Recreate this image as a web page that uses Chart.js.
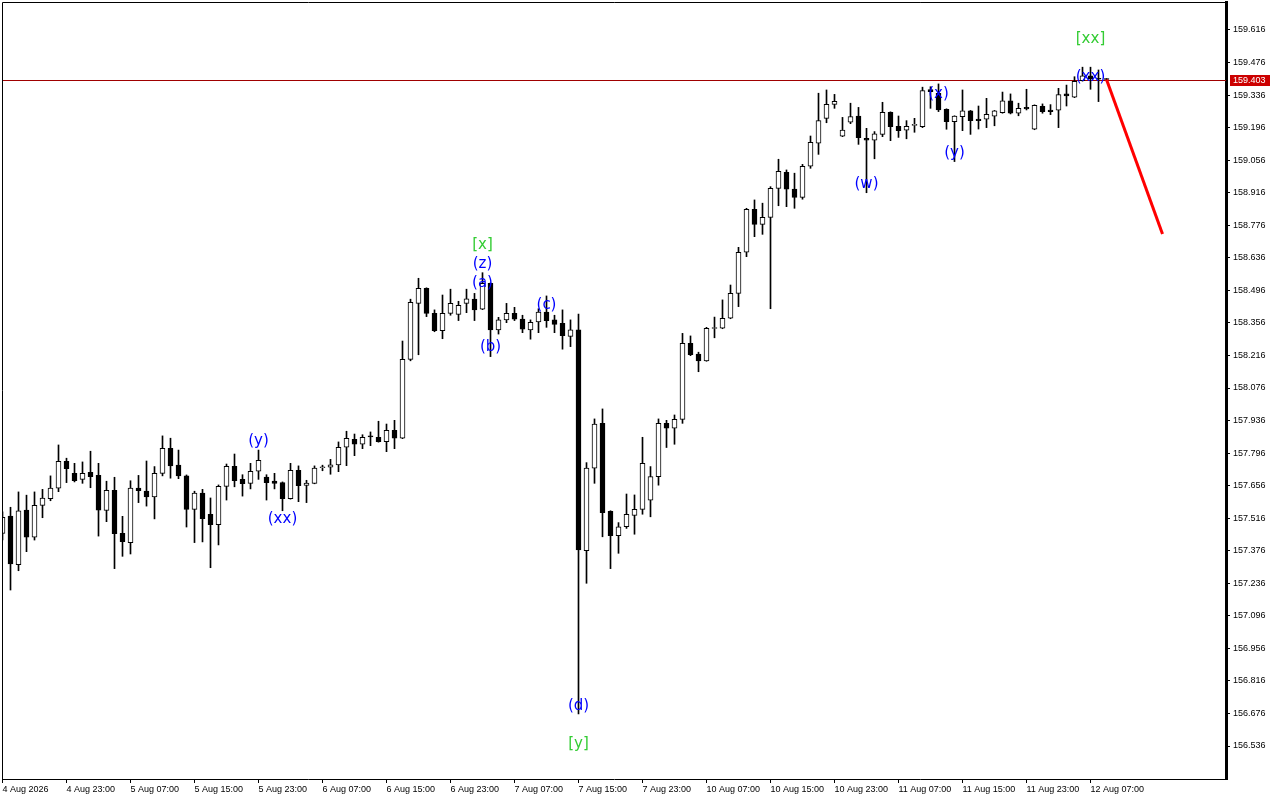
<!DOCTYPE html>
<html>
<head>
<meta charset="utf-8">
<script src="https://cdn.jsdelivr.net/npm/chart.js@4.4.1/dist/chart.umd.min.js"></script>
<style>
html,body{margin:0;padding:0;background:#fff;}
canvas{display:block;}
</style>
</head>
<body>
<canvas id="c" width="1280" height="800"></canvas>
<script>
// ---- data (hourly bars, index 0 = 4 Aug 15:00) ----
const opens = [157.451,157.525,157.316,157.551,157.434,157.571,157.600,157.645,157.761,157.709,
157.683,157.713,157.700,157.549,157.636,157.451,157.411,157.646,157.633,157.608,
157.709,157.817,157.744,157.698,157.554,157.624,157.533,157.488,157.653,157.739,
157.683,157.666,157.718,157.693,157.676,157.669,157.600,157.722,157.657,157.666,
157.733,157.735,157.745,157.821,157.855,157.834,157.868,157.864,157.845,157.894,
157.860,158.199,158.440,158.505,158.397,158.323,158.397,158.393,158.440,158.458,
158.415,158.526,158.326,158.369,158.397,158.372,158.326,158.360,158.403,158.369,
158.354,158.298,158.326,157.376,157.731,157.924,157.546,157.441,157.479,157.528,
157.554,157.594,157.695,157.924,157.903,157.941,158.268,158.222,158.193,158.332,
158.333,158.376,158.483,158.660,158.845,158.780,158.810,158.935,159.004,158.932,
158.896,159.030,159.129,159.236,159.296,159.159,159.219,159.246,159.150,159.142,
159.167,159.262,159.202,159.185,159.206,159.200,159.360,159.344,159.275,159.222,
159.243,159.268,159.233,159.232,159.245,159.260,159.311,159.258,159.283,159.189,
159.288,159.272,159.271,159.341,159.327,159.398,159.419,159.406,159.404];
const highs = [157.543,157.563,157.629,157.615,157.629,157.640,157.698,157.831,157.774,157.752,
157.758,157.804,157.752,157.675,157.692,157.524,157.677,157.700,157.762,157.738,
157.870,157.860,157.809,157.702,157.632,157.640,157.603,157.659,157.749,157.792,
157.703,157.752,157.809,157.703,157.709,157.672,157.752,157.741,157.679,157.741,
157.744,157.769,157.844,157.890,157.878,157.875,157.887,157.933,157.921,157.937,
158.278,158.458,158.548,158.507,158.412,158.476,158.501,158.449,158.501,158.483,
158.572,158.528,158.380,158.440,158.423,158.389,158.369,158.417,158.472,158.389,
158.412,158.369,158.394,157.755,157.943,157.986,157.548,157.497,157.620,157.616,
157.864,157.738,157.943,157.937,157.960,158.311,158.300,158.230,158.337,158.381,
158.455,158.519,158.681,158.849,158.885,158.871,158.942,159.060,159.014,159.000,
159.038,159.160,159.344,159.358,159.339,159.240,159.301,159.283,159.193,159.179,
159.305,159.264,159.246,159.226,159.236,159.370,159.372,159.384,159.277,159.247,
159.358,159.270,159.289,159.322,159.270,159.349,159.341,159.301,159.361,159.294,
159.298,159.295,159.365,159.379,159.415,159.456,159.456,159.444,159.407];
const lows = [157.422,157.207,157.290,157.372,157.422,157.518,157.591,157.630,157.669,157.672,
157.666,157.647,157.439,157.501,157.299,157.352,157.362,157.583,157.568,157.513,
157.698,157.688,157.686,157.478,157.411,157.414,157.303,157.401,157.594,157.651,
157.611,157.642,157.683,157.594,157.642,157.548,157.598,157.587,157.583,157.664,
157.720,157.705,157.716,157.742,157.785,157.815,157.828,157.843,157.802,157.815,
157.858,158.193,158.219,158.383,158.318,158.288,158.389,158.366,158.400,158.366,
158.413,158.211,158.308,158.357,158.366,158.314,158.286,158.314,158.337,158.314,
158.243,158.254,156.674,157.236,157.666,157.436,157.299,157.365,157.472,157.447,
157.533,157.522,157.658,157.820,157.834,157.924,158.215,158.146,158.191,158.292,
158.331,158.374,158.426,158.641,158.727,158.737,158.417,158.860,158.856,158.849,
158.888,159.021,159.081,159.217,159.279,159.157,159.213,159.124,158.916,159.062,
159.157,159.140,159.154,159.148,159.176,159.196,159.279,159.265,159.189,159.050,
159.183,159.167,159.190,159.196,159.204,159.258,159.255,159.247,159.272,159.187,
159.258,159.252,159.196,159.289,159.325,159.396,159.361,159.308,159.401];
const closes = [157.520,157.319,157.548,157.434,157.571,157.602,157.645,157.761,157.729,157.677,
157.709,157.695,157.551,157.636,157.449,157.415,157.645,157.634,157.608,157.709,
157.817,157.741,157.698,157.554,157.624,157.514,157.488,157.653,157.739,157.677,
157.664,157.718,157.765,157.669,157.666,157.600,157.722,157.656,157.667,157.731,
157.734,157.745,157.821,157.860,157.834,157.864,157.866,157.845,157.894,157.860,
158.199,158.445,158.505,158.397,158.323,158.397,158.440,158.432,158.460,158.412,
158.526,158.326,158.369,158.397,158.372,158.329,158.359,158.403,158.366,158.350,
158.301,158.326,157.379,157.731,157.921,157.540,157.441,157.479,157.533,157.554,
157.752,157.695,157.924,157.903,157.941,158.268,158.219,158.193,158.333,158.334,
158.376,158.483,158.660,158.845,158.780,158.810,158.935,159.008,158.931,158.896,
159.030,159.133,159.226,159.296,159.309,159.185,159.243,159.153,159.142,159.169,
159.262,159.200,159.183,159.202,159.208,159.355,159.351,159.272,159.222,159.246,
159.268,159.226,159.226,159.253,159.268,159.311,159.258,159.279,159.277,159.292,
159.265,159.265,159.338,159.332,159.395,159.419,159.405,159.404,159.403];

const lastPrice = 159.403;

// time axis labels (every 8 bars)
const timeTickBars = [0,8,16,24,32,40,48,56,64,72,80,88,96,104,112,120,128,136];
const timeTickLabels = ["4 Aug 2026","4 Aug 23:00","5 Aug 07:00","5 Aug 15:00","5 Aug 23:00",
"6 Aug 07:00","6 Aug 15:00","6 Aug 23:00","7 Aug 07:00","7 Aug 15:00","7 Aug 23:00",
"10 Aug 07:00","10 Aug 15:00","10 Aug 23:00","11 Aug 07:00","11 Aug 15:00","11 Aug 23:00","12 Aug 07:00"];

// price axis labels
const priceTicks = [159.616,159.476,159.336,159.196,159.056,158.916,158.776,158.636,158.496,158.356,
158.216,158.076,157.936,157.796,157.656,157.516,157.376,157.236,157.096,156.956,156.816,156.676,156.536];

// forecast line (bar index, price)
const forecastBars = [138, 145];
const forecastPrices = [159.403, 158.738];

// wave labels: text, bar index, price at label centre
const waveText  = ["(y)","(xx)","[x]","(z)","(a)","(b)","(c)","(d)","[y]","(w)","(x)","(y)","[xx]","(xx)"];
const waveBar   = [32, 35, 60, 60, 60, 61, 68, 72, 72, 108, 117, 119, 136, 136];
const wavePrice = [157.848,157.512,158.691,158.609,158.528,158.252,158.433,156.708,156.545,158.954,159.341,159.087,159.577,159.414];

// ---- chart ----
const wickData = lows.map((l, i) => ({x: i, y: [l, highs[i]]}));
const bodyData = opens.map((o, i) => ({x: i, y: [o, closes[i]]}));

const FONT_AXIS = {family: "'Liberation Sans', Arial, sans-serif", size: 9};

const framePlugin = {
  id: 'frame',
  beforeDatasetsDraw(chart) {
    const {ctx, chartArea: a, scales} = chart;
    const y = Math.round(scales.y.getPixelForValue(lastPrice)) + 0.5;
    ctx.save();
    ctx.strokeStyle = '#a00000';
    ctx.lineWidth = 1;
    ctx.beginPath();
    ctx.moveTo(a.left, y);
    ctx.lineTo(a.right, y);
    ctx.stroke();
    ctx.restore();
  },
  afterDatasetsDraw(chart) {
    const {ctx, scales} = chart;
    ctx.save();
    ctx.font = "15px 'DejaVu Sans', sans-serif";
    ctx.textAlign = 'center';
    ctx.textBaseline = 'middle';
    waveText.forEach((t, k) => {
      ctx.fillStyle = t.charAt(0) === '[' ? '#33cc33' : '#0000ff';
      ctx.fillText(t, scales.x.getPixelForValue(waveBar[k]), scales.y.getPixelForValue(wavePrice[k]));
    });
    ctx.restore();
  },
  afterDraw(chart) {
    const {ctx, chartArea: a, scales} = chart;
    ctx.save();
    ctx.strokeStyle = '#000';
    ctx.lineWidth = 1;
    ctx.beginPath();
    ctx.moveTo(a.left + 0.5, a.bottom);
    ctx.lineTo(a.left + 0.5, a.top + 0.5);
    ctx.lineTo(a.right, a.top + 0.5);
    ctx.stroke();
    // current price box on axis
    const y = Math.round(scales.y.getPixelForValue(lastPrice));
    ctx.fillStyle = '#cc0000';
    ctx.fillRect(a.right + 4, y - 5, 40, 11);
    ctx.fillStyle = '#fff';
    ctx.font = "9px 'Liberation Sans', Arial, sans-serif";
    ctx.textAlign = 'left';
    ctx.textBaseline = 'middle';
    ctx.fillText(lastPrice.toFixed(3), a.right + 7, y + 0.5);
    ctx.restore();
  }
};

new Chart(document.getElementById('c'), {
  type: 'bar',
  data: {
    datasets: [
      {
        type: 'line',
        data: forecastBars.map((b, i) => ({x: b, y: forecastPrices[i]})),
        borderColor: '#ff0000',
        borderWidth: 3,
        pointRadius: 0,
        fill: false,
        order: 0
      },
      {
        data: bodyData,
        backgroundColor: ctx => (closes[ctx.dataIndex] >= opens[ctx.dataIndex] ? '#ffffff' : '#000000'),
        borderColor: '#000000',
        borderWidth: 1,
        borderSkipped: false,
        barThickness: 5,
        minBarLength: 1,
        grouped: false,
        order: 1
      },
      {
        data: wickData,
        backgroundColor: '#000000',
        borderWidth: 0,
        barThickness: 1,
        grouped: false,
        order: 2
      }
    ]
  },
  options: {
    responsive: false,
    devicePixelRatio: 1,
    animation: false,
    layout: {padding: {left: 2, top: 2, right: 0, bottom: 0}},
    plugins: {legend: {display: false}, tooltip: {enabled: false}},
    scales: {
      x: {
        type: 'linear',
        position: 'bottom',
        offset: false,
        min: -0.0625,
        max: 152.9375,
        afterFit: s => { s.height = 21; s.paddingLeft = 0; s.paddingRight = 0; },
        afterBuildTicks: s => { s.ticks = timeTickBars.map(v => ({value: v})); },
        ticks: {
          callback: (v) => { const k = timeTickBars.indexOf(v); return k >= 0 ? timeTickLabels[k] : ''; },
          align: 'start',
          autoSkip: false,
          maxRotation: 0,
          minRotation: 0,
          padding: 1,
          color: '#000',
          font: FONT_AXIS
        },
        grid: {offset: false, drawOnChartArea: false, drawTicks: true, tickLength: 4, color: '#000'},
        border: {display: true, color: '#000', width: 1}
      },
      y: {
        type: 'linear',
        position: 'right',
        min: 156.3941,
        max: 159.7364,
        afterFit: s => { s.width = 54; s.paddingTop = 0; s.paddingBottom = 0; },
        afterBuildTicks: s => { s.ticks = priceTicks.map(v => ({value: v})); },
        ticks: {
          callback: v => Number(v).toFixed(3),
          padding: 3,
          color: '#000',
          font: FONT_AXIS
        },
        grid: {drawOnChartArea: false, drawTicks: true, tickLength: 4, color: '#000'},
        border: {display: true, color: '#000', width: 3}
      }
    }
  },
  plugins: [framePlugin]
});
</script>
</body>
</html>
